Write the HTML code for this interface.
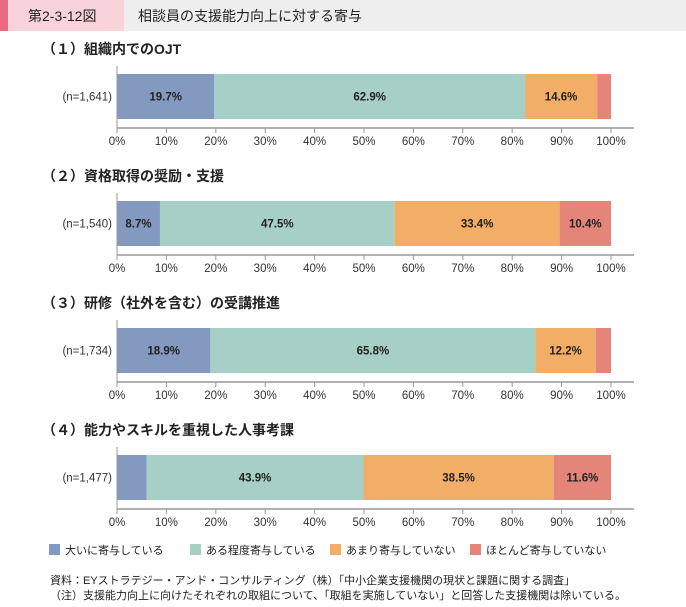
<!DOCTYPE html>
<html><head><meta charset="utf-8"><style>
body{margin:0;width:686px;height:602px;background:#fff;font-family:"Liberation Sans","Noto Sans CJK JP",sans-serif;overflow:hidden}
svg text{font-family:"Liberation Sans","Noto Sans CJK JP",sans-serif}
</style></head><body>
<svg id="c" width="686" height="602">
<rect x="0" y="0" width="686" height="31" fill="#eeeeee"/>
<rect x="0" y="0" width="8" height="31" fill="#e96a85"/>
<rect x="8" y="0" width="116" height="31" fill="#f9d3da"/>
<text x="28" y="21" font-size="14" fill="#222">第2-3-12図</text>
<text x="138" y="21" font-size="14" fill="#222">相談員の支援能力向上に対する寄与</text>
<g id="legend"></g>
<text x="50" y="584" font-size="11" fill="#222">資料：EYストラテジー・アンド・コンサルティング（株）「中小企業支援機関の現状と課題に関する調査」</text>
<text x="50" y="599" font-size="11" fill="#222">（注）支援能力向上に向けたそれぞれの取組について、「取組を実施していない」と回答した支援機関は除いている。</text>
</svg>
<script>
const titles=["（１）組織内でのOJT","（２）資格取得の奨励・支援","（３）研修（社外を含む）の受講推進","（４）能力やスキルを重視した人事考課"];
const nLabels=["(n=1,641)","(n=1,540)","(n=1,734)","(n=1,477)"];
const seriesNames=["大いに寄与している","ある程度寄与している","あまり寄与していない","ほとんど寄与していない"];
const s1=[19.7,8.7,18.9,6.0];
const s2=[62.9,47.5,65.8,43.9];
const s3=[14.6,33.4,12.2,38.5];
const s4=[2.8,10.4,3.1,11.6];
const showLabel=[[1,1,1,0],[1,1,1,1],[1,1,1,0],[0,1,1,1]];
const ticks=[0,10,20,30,40,50,60,70,80,90,100];
const colors=["#8499c0","#a6cfc5","#f2ad66","#e5857a"];
const NS="http://www.w3.org/2000/svg";
const svg=document.getElementById('c');
const x0=117,x1=611;
const xs=v=>x0+(x1-x0)*v/100;
function mk(tag,attrs,parent){const e=document.createElementNS(NS,tag);for(const k in attrs)e.setAttribute(k,attrs[k]);(parent||svg).appendChild(e);return e;}
const series=[s1,s2,s3,s4];
titles.forEach((t,i)=>{
 const base=i*127;
 const tt=mk('text',{x:42,y:54+base,'font-size':14,'font-weight':'bold',fill:'#222'});
 tt.textContent=t;
 
 
 const by=74+base,bh=45,ay=128+base;
 let cum=0;
 series.forEach((s,j)=>{
  const r=mk('rect',{x:xs(cum),y:by,width:xs(cum+s[i])-xs(cum),height:bh,fill:colors[j]});
  
  
  if(showLabel[i][j]){
   const l=mk('text',{x:(xs(cum)+xs(cum+s[i]))/2,y:by+bh/2+4,'font-size':11.5,'font-weight':'bold','text-anchor':'middle',fill:'#222'});
   l.textContent=s[i].toFixed(1)+'%';
   
   
  }
  cum+=s[i];
 });
 const n=mk('text',{x:112,y:by+bh/2+4,'font-size':11.5,'text-anchor':'end',fill:'#333'});
 n.textContent=nLabels[i];
 
 
 const va=mk('line',{x1:x0,y1:by-8,x2:x0,y2:ay,stroke:'#999','stroke-width':1});
 
 
 const ha=mk('line',{x1:x0,y1:ay,x2:634,y2:ay,stroke:'#999','stroke-width':1.5});
 
 
 ticks.forEach(v=>{
  const tk=mk('line',{x1:xs(v),y1:ay,x2:xs(v),y2:ay+5,stroke:'#999'});
  
  
  const tl=mk('text',{x:xs(v),y:ay+17,'font-size':11.5,'text-anchor':'middle',fill:'#333'});
  tl.textContent=v+'%';
  
  
 });
});
const lg=document.getElementById('legend');
const lx=[49,190,330,470];
seriesNames.forEach((nm,j)=>{
 const r=mk('rect',{x:lx[j],y:544,width:11,height:11,fill:colors[j]},lg);
 
 
 const t=mk('text',{x:lx[j]+16,y:554,'font-size':11,fill:'#222'},lg);
 t.textContent=nm;
 
 
});
</script>
</body></html>
